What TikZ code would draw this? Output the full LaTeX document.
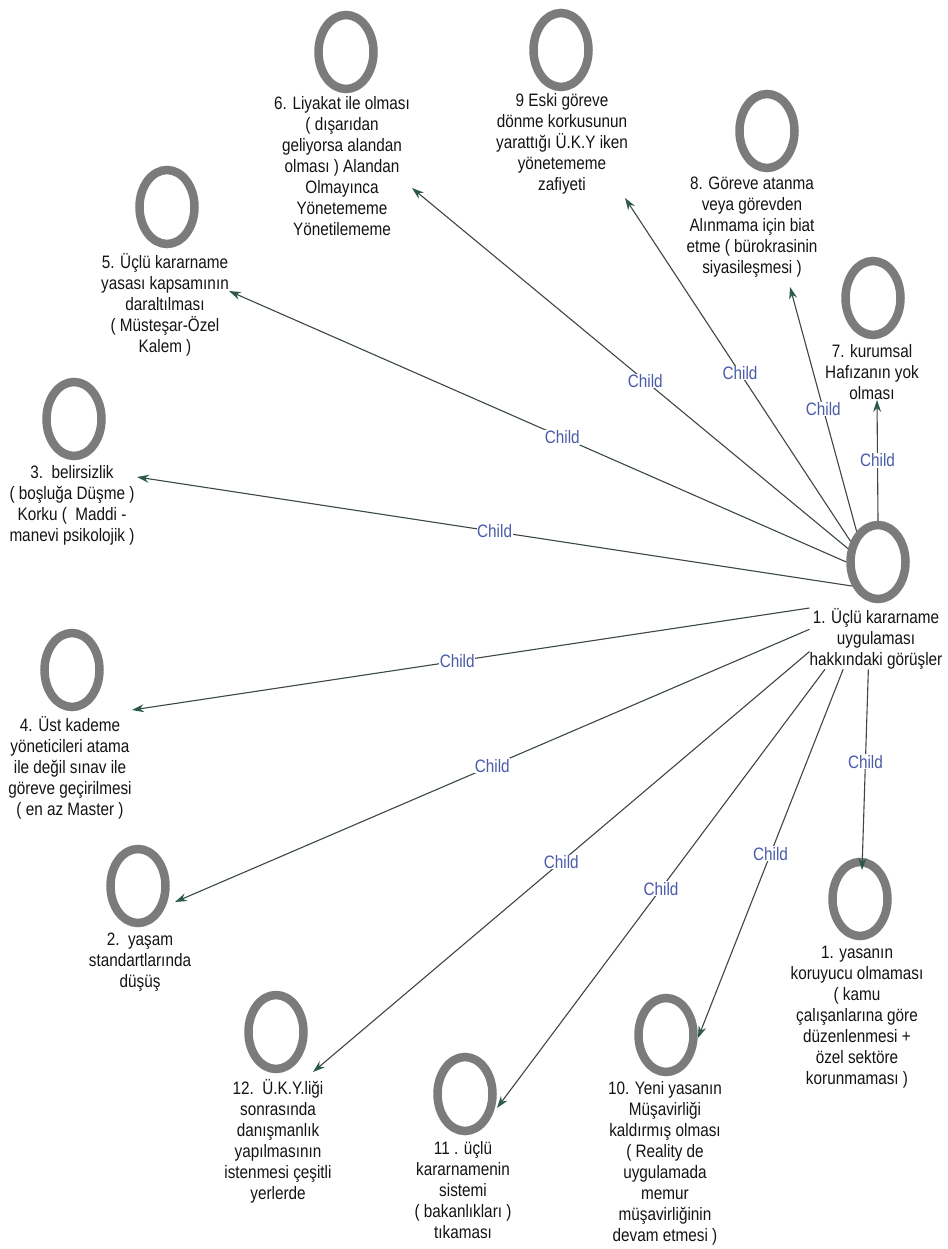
\documentclass[tikz,border=0pt]{standalone}
\usepackage{fontspec}
\setmainfont{Liberation Sans}[FakeStretch=0.85]
\usetikzlibrary{arrows.meta,shapes.geometric}
\definecolor{ringgray}{HTML}{7B7B7B}
\definecolor{linkgray}{HTML}{3B4843}
\definecolor{tipgreen}{HTML}{2B5A4A}
\definecolor{childblue}{HTML}{4A5CA8}
\definecolor{captext}{HTML}{141414}
\begin{document}
\begin{tikzpicture}[x=1pt,y=-1pt,
  ring/.style={ellipse,draw=ringgray,line width=8.5pt,minimum width=55pt,minimum height=74pt,inner sep=0pt},
  caption/.style={anchor=north,align=center,inner sep=0pt,text=captext,
    font=\fontsize{18}{21}\selectfont,execute at begin node=\rule{0pt}{16pt}},
  link/.style={draw=linkgray,line width=1.1pt,-{Stealth[length=12pt,width=8pt,color=tipgreen]}},
  childlbl/.style={pos=0.5,fill=white,inner sep=0.6pt,text=childblue,font=\fontsize{18}{21}\selectfont}]
\fill[white] (0,0) rectangle (947,1249);
\useasboundingbox (0,0) rectangle (947,1249);

% root topic
\node[ring] (rc) at (878,562) {};
\node[caption] (rt) at (876,608) {1. Üçlü kararname\\uygulaması\\hakkındaki görüşler};

% child topics: ring and caption
\node[ring] (c6) at (346,52) {};
\node[caption] (t6) at (342,96) {6. Liyakat ile olması\\( dışarıdan\\geliyorsa alandan\\olması ) Alandan\\Olmayınca\\Yönetememe\\Yönetilememe};
\node[ring] (c9) at (561,50) {};
\node[caption] (t9) at (562,93) {9 Eski göreve\\dönme korkusunun\\yarattığı Ü.K.Y iken\\yönetememe\\zafiyeti};
\node[ring] (c8) at (767,131) {};
\node[caption] (t8) at (752,177) {8. Göreve atanma\\veya görevden\\Alınmama için biat\\etme ( bürokrasinin\\siyasileşmesi )};
\node[ring] (c7) at (873,298) {};
\node[caption] (t7) at (872,344) {7. kurumsal\\Hafızanın yok\\olması};
\node[ring] (c5) at (167,207) {};
\node[caption] (t5) at (165,253) {5. Üçlü kararname\\yasası kapsamının\\daraltılması\\( Müsteşar-Özel\\Kalem )};
\node[ring] (c3) at (74,419) {};
\node[caption] (t3) at (72,465) {3.\ \ belirsizlik\\( boşluğa Düşme )\\Korku (\ \ Maddi -\\manevi psikolojik )};
\node[ring] (c4) at (72,670) {};
\node[caption] (t4) at (70,716) {4. Üst kademe\\yöneticileri atama\\ile değil sınav ile\\göreve geçirilmesi\\( en az Master )};
\node[ring] (c2) at (138,886) {};
\node[caption] (t2) at (140,933) {2.\ \ yaşam\\standartlarında\\düşüş};
\node[ring] (c12) at (276,1032) {};
\node[caption] (t12) at (278,1079) {12.\ \ Ü.K.Y.liği\\sonrasında\\danışmanlık\\yapılmasının\\istenmesi çeşitli\\yerlerde};
\node[ring] (c11) at (465,1094) {};
\node[caption] (t11) at (463,1141) {11 . üçlü\\kararnamenin\\sistemi\\( bakanlıkları )\\tıkaması};
\node[ring] (c10) at (666,1035) {};
\node[caption] (t10) at (665,1081) {10. Yeni yasanın\\Müşavirliği\\kaldırmış olması\\( Reality de\\uygulamada\\memur\\müşavirliğinin\\devam etmesi )};
\node[ring] (c1b) at (860,899) {};
\node[caption] (t1b) at (857,946) {1. yasanın\\koruyucu olmaması\\( kamu\\çalışanlarına göre\\düzenlenmesi +\\özel sektöre\\korunmaması )};

% arrow tips beside each child
\coordinate (e6) at (412,188);
\coordinate (e9) at (625,198);
\coordinate (e8) at (790,287);
\coordinate (e7) at (877,400);
\coordinate (e5) at (229,291);
\coordinate (e3) at (137,477);
\coordinate (e4) at (132,710);
\coordinate (e2) at (175,902);
\coordinate (e12) at (313,1072);
\coordinate (e11) at (497,1108);
\coordinate (e10) at (698,1038);
\coordinate (e1b) at (862,870);

% connectors
\draw[link] (rc.north) -- node[childlbl]{Child} (e7);
\draw[link] (rc.125) -- node[childlbl]{Child} (e8);
\draw[link] (rc.143) -- node[childlbl,pos=0.49]{Child} (e9);
\draw[link] (rc.156) -- node[childlbl,pos=0.465]{Child} (e6);
\draw[link] (rc.180) -- node[childlbl,pos=0.46]{Child} (e5);
\draw[link] (rc.223) -- node[childlbl]{Child} (e3);
\draw[link] (rt.north west) -- node[childlbl,pos=0.52]{Child} (e4);
\draw[link] (rt.172) -- node[childlbl]{Child} (e2);
\draw[link] (rt.191) -- node[childlbl]{Child} (e12);
\draw[link] (rt.211) -- node[childlbl]{Child} (e11);
\draw[link] (rt.223) -- node[childlbl]{Child} (e10);
\draw[link] (rt.256) -- node[childlbl,pos=0.46]{Child} (e1b);
\end{tikzpicture}
\end{document}
